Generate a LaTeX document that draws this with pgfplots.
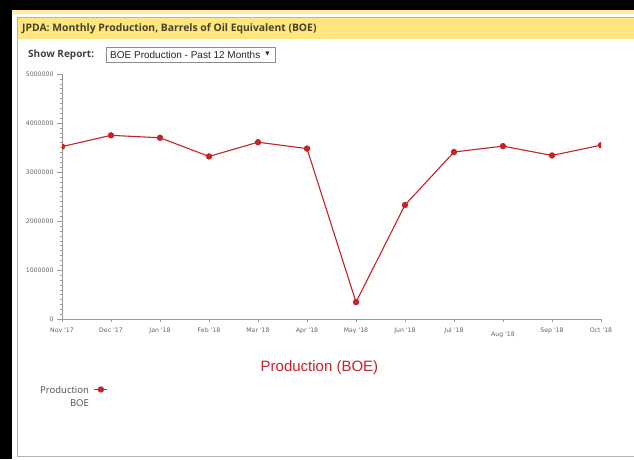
\documentclass[border=0pt]{standalone}
\usepackage{pgfplots}
\pgfplotsset{compat=1.18}
\usepackage{fontspec}
\setmainfont{Liberation Sans}
\newfontfamily\headfont{Open Sans}
\newfontfamily\tickfont{DejaVu Sans}
\definecolor{hdryellow}{HTML}{FFE680}
\definecolor{hdrtext}{HTML}{4B3F22}
\definecolor{boered}{HTML}{C62329}
\definecolor{axgray}{HTML}{9A9A9A}
\definecolor{ticktext}{HTML}{666666}
\definecolor{framegray}{HTML}{B4B4B4}

\begin{document}
\begin{tikzpicture}
\useasboundingbox (0,0) rectangle (634pt,459pt);
\fill[white] (0,0) rectangle (634pt,459pt);

% page chrome (pixel coordinates, y down)
\begin{scope}[x=1pt,y=-1pt,yshift=459pt]
  \fill[black] (0,0) rectangle (634,10.5);
  \fill[black] (0,0) rectangle (12,459);
  \fill[hdryellow!70] (12,10.5) rectangle (634,14);
  \draw[framegray] (634,456.5) -- (17.5,456.5) -- (17.5,17.5) -- (634,17.5);
  \fill[hdryellow] (18,18) rectangle (634,39);
  \node[anchor=west, inner sep=0, text=hdrtext,
        font=\headfont\bfseries\fontsize{10.35}{13}\selectfont] at (22,28.5)
        {JPDA: Monthly Production, Barrels of Oil Equivalent (BOE)};
  \node[anchor=base west, inner sep=0, text=black!75,
        font=\headfont\bfseries\fontsize{10}{12}\selectfont] at (28,57.5) {Show Report:};
  \draw[black!45, fill=white] (106,47.5) rectangle (275.5,62);
  \node[anchor=base west, inner sep=0, text=black!85,
        font=\fontsize{10}{12}\selectfont] at (110,58.3) {BOE Production - Past 12 Months};
  \node[inner sep=0, text=black!85, font=\tickfont\fontsize{5.5}{7}\selectfont] at (267.5,54.5) {▼};
\end{scope}

\begin{axis}[
  at={(62pt,139.7pt)}, anchor=south west,
  scale only axis, width=539pt, height=245.3pt,
  xmin=0, xmax=11, ymin=0, ymax=5000000,
  clip marker paths=true,
  axis x line*=bottom, axis y line*=left,
  axis line style={axgray, line width=0.8pt},
  tick align=outside,
  major tick length=5pt, minor tick length=2.5pt,
  tick style={axgray, line width=0.6pt},
  xtick style={/pgfplots/major tick length=3pt},
  xtick={0,1,2,3,4,5,6,7,8,10,11},
  xticklabels={Nov '17, Dec '17, Jan '18, Feb '18, Mar '18, Apr '18, May '18, Jun '18, Jul '18, Sep '18, Oct '18},
  extra x ticks={9},
  extra x tick labels={Aug '18},
  extra x tick style={/pgfplots/major tick length=6pt, xticklabel style={yshift=-3pt}},
  scaled y ticks=false,
  ytick={0,1000000,2000000,3000000,4000000,5000000},
  yticklabels={0,1000000,2000000,3000000,4000000,5000000},
  minor y tick num=9,
  ticklabel style={font=\tickfont\fontsize{6.2}{7}\selectfont, text=ticktext},
  xlabel={Production (BOE)},
  xlabel style={at={(axis description cs:0.4777,-0.1985)}, anchor=center,
                font=\fontsize{15}{17}\selectfont, text=boered},
  legend plot pos=right,
  legend image code/.code={\draw[#1, mark repeat=2, mark phase=2]
      plot coordinates {(0pt,0pt) (6.5pt,0pt) (13pt,0pt)};},
  legend style={at={(-0.0445,-0.2556)}, anchor=north west, draw=none, fill=none,
                inner sep=0pt, column sep=3pt, font=\headfont\fontsize{9.5}{13}\selectfont,
                text=black!70},
]
% BOE production, Nov 2017 - Oct 2018
\addplot[boered, line width=1.1pt, mark=*, mark size=2.6pt,
         mark options={fill=boered, draw=boered}] coordinates {
    (0, 3520000)
    (1, 3750000)
    (2, 3700000)
    (3, 3320000)
    (4, 3610000)
    (5, 3480000)
    (6, 350000)
    (7, 2330000)
    (8, 3410000)
    (9, 3530000)
    (10, 3340000)
    (11, 3550000)
};
\addlegendentry{\begin{tabular}[t]{@{}r@{}}Production\\BOE\end{tabular}}
\end{axis}
\end{tikzpicture}
\end{document}
